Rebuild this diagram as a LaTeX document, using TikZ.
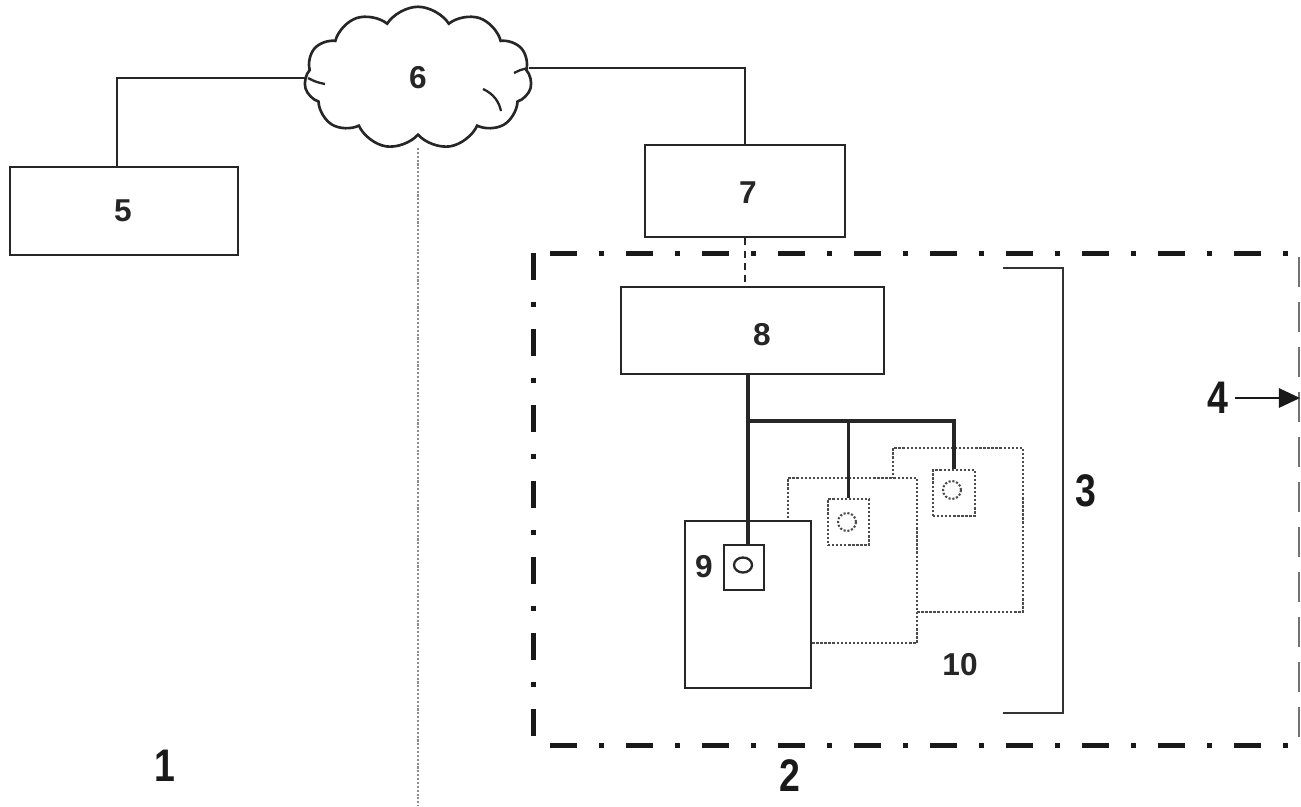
\documentclass[tikz,border=0pt]{standalone}
\usepackage{fontspec}
\setmainfont{Liberation Sans}
\usetikzlibrary{shapes.symbols,arrows.meta}
\tikzset{
  box/.style={draw=black!85, line width=1.5pt, fill=white, rectangle, inner sep=0pt},
  dbox/.style={draw=black!70, line width=1.3pt, densely dotted, fill=white, rectangle, inner sep=0pt},
  lab/.style={font=\bfseries\fontsize{18}{18}\selectfont, text=black!85},
  biglab/.style={font=\bfseries\fontsize{26}{26}\selectfont, text=black!90},
  wire/.style={draw=black!85, line width=1.3pt},
  fat/.style={draw=black!85, line width=2pt},
  dashdot/.style={draw=black!90, line width=0.1cm, dash pattern=on 0.54cm off 0.44cm on 0.1cm off 0.44cm},
}
\newcommand{\cond}[1]{\scalebox{0.82}[1]{#1}}
\begin{document}
\begin{tikzpicture}[x=0.02cm,y=-0.02cm]
\useasboundingbox (0,0) rectangle (1301,806);
% separation line
\draw[draw=black!45, line width=1.2pt, densely dotted] (418,148) -- (418,806);
% cloud
\node[cloud, cloud puffs=11, cloud puff arc=115, aspect=1.6, draw=black!85, line width=1.5pt, fill=white,
      minimum width=4.55cm, minimum height=2.85cm, inner sep=0pt] (c6) at (418,78) {};
\node[lab] at (418,78) {6};
\draw[wire] (325,84) .. controls (316,82) .. (308,78);
\draw[wire] (514,73) .. controls (520,70) .. (528,68);
\draw[wire] (483,89) .. controls (494,94) and (499,102) .. (501,111);
% boxes
\node[box, minimum width=4.56cm, minimum height=1.76cm] (b5) at (124,211) {};
\node[lab] at (123,211) {5};
\node[box, minimum width=4.0cm, minimum height=1.84cm] (b7) at (745,191) {};
\node[lab] at (748,193) {7};
\node[box, minimum width=5.26cm, minimum height=1.74cm] (b8) at (752.5,330.5) {};
\node[lab] at (762,335) {8};
% cloud connectors
\coordinate (cl) at (306,78);
\coordinate (cr) at (529,68);
\draw[wire] (b5.north -| 117,0) |- (cl);
\draw[wire] (cr) -| (b7.north);
\draw[wire, dashed, dash pattern=on 4pt off 3pt] (b7.south) -- (b7.south |- b8.north);
% zone 2
\draw[dashdot] (550,253) -- (1301,253);
\draw[dashdot] (533,253) -- (533,745);
\draw[dashdot] (550,745) -- (1301,745);
\draw[draw=black!55, line width=1pt, dash pattern=on 0.6cm off 0.3cm] (1299,257) -- (1299,742);
% devices
\node[dbox, minimum width=2.6cm, minimum height=3.28cm] (dB) at (958,530) {};
\node[dbox, minimum width=0.84cm, minimum height=0.92cm] (sB) at (954,493) {};
\draw[draw=black!70, line width=1.2pt, densely dotted] (952,490) circle (9);
\node[dbox, minimum width=2.58cm, minimum height=3.3cm] (dA) at (852.5,560.5) {};
\node[dbox, minimum width=0.82cm, minimum height=0.92cm] (sA) at (848.5,522) {};
\draw[draw=black!70, line width=1.2pt, densely dotted] (847,522) circle (9);
\node[box, minimum width=2.52cm, minimum height=3.34cm] (b9) at (748,604.5) {};
\node[box, minimum width=0.8cm, minimum height=0.9cm] (s9) at (744,567.5) {};
\draw[draw=black!85, line width=1.3pt] (743,565) ellipse (9 and 7.5);
\node[lab] at (704,567) {9};
\node[lab] at (960,665) {10};
% bus
\coordinate (j) at (748,421);
\draw[fat] (b8.south -| j) -- (j |- s9.north);
\draw[fat] (j) -| (sB.north);
\draw[fat] (j -| sA.north) -- (sA.north);
% bracket 3
\draw[draw=black!80, line width=1.2pt] (1003,268) -- (1063,268) -- (1063,713) -- (1003,713);
\node[biglab] at (1086,491) {\cond{3}};
% label 4 arrow
\node[biglab, anchor=east] (l4) at (1235,398) {\cond{4}};
\coordinate (a4) at (1300,398);
\draw[draw=black!90, line width=1.2pt, -{Triangle[length=12pt,width=11pt]}] (l4.east) -- (a4);
% labels 1 2
\node[biglab] at (165,766) {\cond{1}};
\node[biglab] at (790,776) {\cond{2}};
\end{tikzpicture}
\end{document}
